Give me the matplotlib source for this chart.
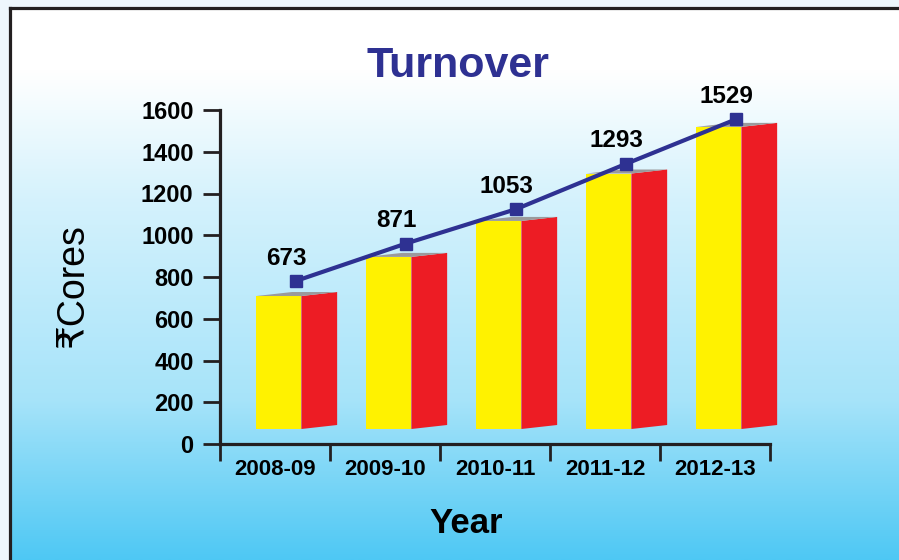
import numpy as np
import matplotlib
matplotlib.use('Agg')
import matplotlib.pyplot as plt
from matplotlib.patches import Polygon, Rectangle

# Data
years = ['2008-09', '2009-10', '2010-11', '2011-12', '2012-13']
turnover = [673, 871, 1053, 1293, 1529]
y_ticks = [0, 200, 400, 600, 800, 1000, 1200, 1400, 1600]

W, H = 899, 560
NAVY = '#2e3192'
INK = '#231f20'
YELLOW = '#fff200'
RED = '#ed1c24'
GRAY = '#9a9a9c'

plt.rcParams['font.family'] = ['Liberation Sans', 'DejaVu Sans']

fig = plt.figure(figsize=(W / 100, H / 100), dpi=100, facecolor='#eef6fc')

# Framed panel with a white -> sky blue gradient
bg = fig.add_axes([9.5 / W, 0, 1, 1 - 8 / H])
py = np.arange(8, H + 1)
t = np.interp(py, [8, 70, 200, 400, 440, 560], [0, 0, 0.24, 0.5, 0.63, 1.0])
top_c = np.array([1.0, 1.0, 1.0])
bot_c = np.array([78, 200, 244]) / 255
grad = (1 - t)[:, None] * top_c + t[:, None] * bot_c
bg.imshow(grad[:, None, :], aspect='auto', extent=[0, 1, 0, 1], interpolation='bilinear')
bg.set_xticks([])
bg.set_yticks([])
for side in ['right', 'bottom']:
    bg.spines[side].set_visible(False)
for side in ['left', 'top']:
    bg.spines[side].set_linewidth(2.3)
    bg.spines[side].set_color(INK)

# Main axes (scale, ticks)
rect = [220 / W, (H - 444) / H, 550 / W, 334 / H]
ax = fig.add_axes(rect)
ax.patch.set_alpha(0)
ax.set_xlim(0, len(years))
ax.set_ylim(0, 1600)
for side in ['top', 'right']:
    ax.spines[side].set_visible(False)
for side in ['left', 'bottom']:
    ax.spines[side].set_linewidth(2.3)
    ax.spines[side].set_color(INK)
    ax.spines[side].set_capstyle('projecting')

ax.set_yticks(y_ticks)
ax.set_yticklabels([str(v) for v in y_ticks], fontsize=17, fontweight='bold')
ax.tick_params(axis='y', length=12, width=2, color=INK, pad=7)

cats = np.arange(len(years)) + 0.5
ax.set_xticks(np.arange(len(years) + 1))
ax.set_xticklabels([])
ax.tick_params(axis='x', which='major', length=12, width=2, color=INK)
ax.set_xticks(cats, minor=True)
ax.set_xticklabels(years, minor=True, fontsize=16, fontweight='bold')
ax.tick_params(axis='x', which='minor', length=0, pad=11)

# Pseudo-3D bars (own vertical scale, floating slightly above the axis)
bar_px = 0.1976
bar_base = 15
axb = fig.add_axes(rect, sharex=ax)
axb.set_ylim(-bar_base / bar_px, (334 - bar_base) / bar_px)
axb.axis('off')
rise = 4 / bar_px
for c, v in zip(cats, turnover):
    x0, x1, x2 = c - 0.17, c + 0.24, c + 0.565
    axb.add_patch(Rectangle((x0, 0), x1 - x0, v, facecolor=YELLOW, edgecolor='none', clip_on=False))
    axb.add_patch(Polygon([(x1, 0), (x2, rise), (x2, v + rise), (x1, v)],
                          facecolor=RED, edgecolor='none', clip_on=False))
    axb.add_patch(Polygon([(x0, v), (x1, v), (x2, v + rise), (x0 + (x2 - x1), v + rise)],
                          facecolor=GRAY, edgecolor='none', clip_on=False))

# Trend line
line_px = 0.1888
line_base = 36
axl = fig.add_axes(rect, sharex=ax)
axl.set_ylim(-line_base / line_px, (334 - line_base) / line_px)
axl.axis('off')
lx = cats + 0.19
axl.plot(lx, turnover, color=NAVY, lw=3, marker='s', ms=8, clip_on=False)
for x, v in zip(lx, turnover):
    axl.annotate(str(v), (x, v), xytext=(-7, 16.5), textcoords='offset points',
                 ha='center', va='center', fontsize=17.5, fontweight='bold', color='black')

# Titles
fig.text(458 / W, 1 - 66 / H, 'Turnover', ha='center', va='center',
         fontsize=31, fontweight='bold', color=NAVY)
fig.text(466 / W, 1 - 533 / H, 'Year', ha='center', va='baseline',
         fontsize=25, fontweight='bold', color='black')
fig.text(73 / W, 1 - 286 / H, '₹Cores', ha='center', va='center', rotation=90,
         fontsize=27, color='black')

fig.savefig('out.png', dpi=100, facecolor=fig.get_facecolor())
